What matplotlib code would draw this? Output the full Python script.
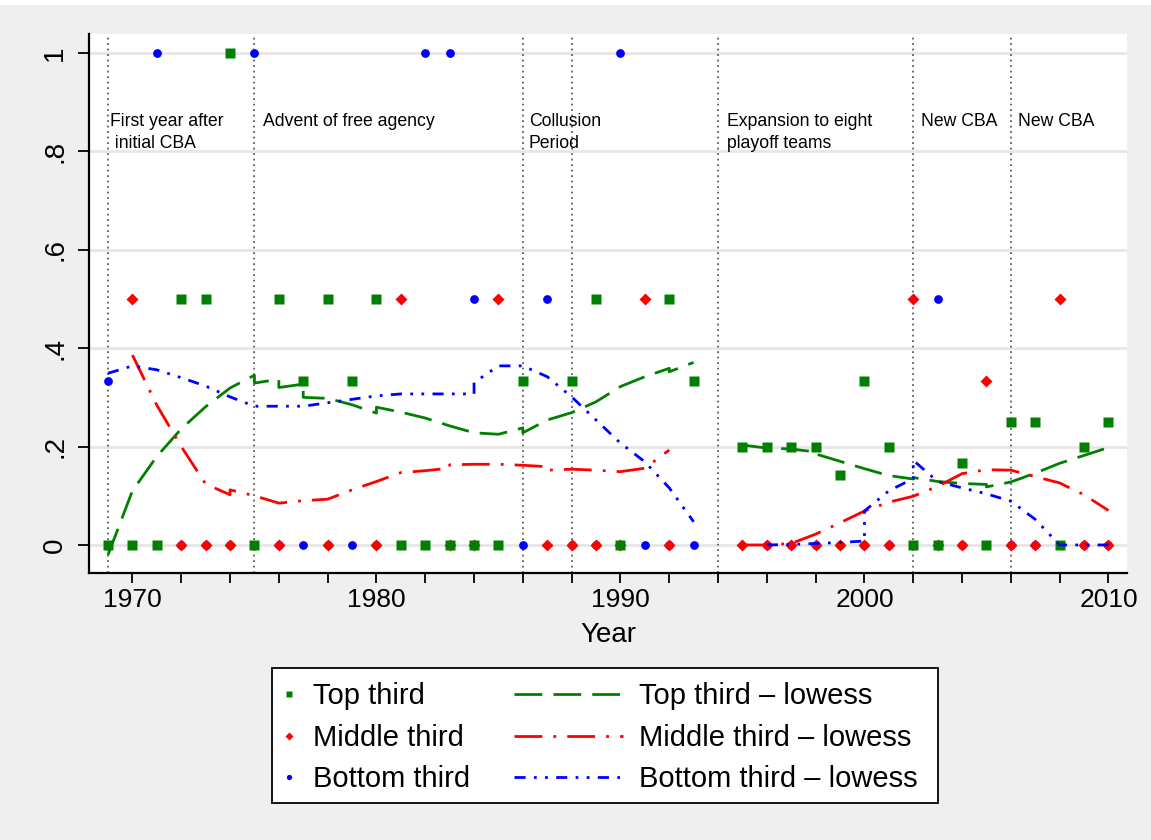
import matplotlib.pyplot as plt
import numpy as np
from matplotlib.patches import Rectangle
from matplotlib.lines import Line2D

nan = np.nan

# scatter data, one value per year and third
years = list(range(1969, 1994)) + list(range(1995, 2011))

top = [0, 0, 0, .5, .5, 1, 0, .5, .333, .5, .333, .5, 0, 0, 0, 0, 0, .333, nan, .333, .5, 0, nan, .5, .333,
       .2, .2, .2, .2, .143, .333, .2, 0, 0, .167, 0, .25, .25, 0, .2, .25]
middle = [nan, .5, nan, 0, 0, 0, nan, 0, nan, 0, nan, 0, .5, nan, 0, 0, .5, nan, 0, 0, 0, 0, .5, 0, nan,
          0, 0, 0, 0, 0, 0, 0, .5, 0, 0, .333, 0, 0, .5, 0, 0]
bottom = [.333, 0, 1, 0, 0, 0, 1, 0, 0, 0, 0, 0, 0, 1, 1, .5, 0, 0, .5, 0, 0, 1, 0, 0, 0,
          nan, 0, 0, 0, 0, 0, 0, 0, .5, 0, 0, 0, 0, 0, 0, 0]

# lowess curves (nan at 1994 = gap)
top_lw_x = [1969, 1970, 1971, 1972, 1973, 1974, 1975, 1975, 1976, 1976, 1977, 1977, 1978, 1979,
            1980, 1980, 1981, 1982, 1983, 1984, 1985, 1986, 1986, 1987, 1988, 1989, 1990, 1991,
            1992, 1992, 1993, 1994,
            1995, 1996, 1997, 1998, 1998, 1999, 2000, 2001, 2002, 2002, 2003, 2004, 2005, 2005,
            2006, 2007, 2008, 2009, 2010]
top_lw_y = [-.02, .11, .18, .236, .281, .319, .345, .329, .337, .32, .327, .30, .298, .285,
            .268, .28, .27, .258, .242, .228, .225, .238, .228, .254, .269, .291, .322, .342,
            .359, .352, .371, nan,
            .203, .197, .195, .189, .185, .17, .155, .141, .134, .137, .129, .125, .123, .118,
            .128, .146, .166, .182, .198]

mid_lw_x = [1970, 1971, 1972, 1973, 1974, 1974, 1975, 1976, 1977, 1978, 1979, 1980, 1981, 1982,
            1983, 1983, 1984, 1985, 1986, 1987, 1987, 1988, 1989, 1990, 1991, 1992, 1994,
            1995, 1996, 1997, 1998, 1999, 2000, 2001, 2002, 2003, 2004, 2005, 2006, 2007, 2008,
            2009, 2010]
mid_lw_y = [.386, .284, .2, .124, .102, .112, .1, .085, .09, .093, .112, .129, .147, .151,
            .156, .163, .164, .164, .162, .159, .152, .154, .152, .149, .156, .193, nan,
            0, 0, .003, .022, .045, .069, .087, .099, .119, .145, .153, .152, .139, .126,
            .102, .07]

bot_lw_x = [1969, 1970, 1971, 1972, 1973, 1974, 1975, 1976, 1977, 1978, 1979, 1980, 1981, 1982,
            1983, 1984, 1984, 1985, 1986, 1987, 1988, 1989, 1990, 1991, 1992, 1993, 1994,
            1996, 1997, 1998, 1999, 2000, 2000, 2001, 2002, 2002, 2003, 2004, 2005, 2006, 2007,
            2008, 2009, 2010]
bot_lw_y = [.349, .364, .356, .34, .323, .301, .282, .282, .282, .289, .296, .303, .307, .307,
            .307, .307, .33, .364, .364, .342, .301, .254, .207, .169, .116, .047, nan,
            0, .001, .003, .005, .008, .069, .11, .135, .172, .129, .116, .104, .089, .052,
            0, 0, 0]

event_years = [1969, 1975, 1986, 1988, 1994, 2002, 2006]
event_labels = [(1969.08, "First year after\n initial CBA"), (1975.35, "Advent of free agency"),
                (1986.25, "Collusion\nPeriod"), (1994.35, "Expansion to eight\nplayoff teams"),
                (2002.3, "New CBA"), (2006.3, "New CBA")]

plt.rcParams['font.family'] = ['Liberation Sans', 'DejaVu Sans']

green = '#008000'
red = '#ff0000'
blue = '#0000ff'

fig = plt.figure(figsize=(11.51, 8.4), dpi=100, facecolor='#efefef')
fig.patches.append(Rectangle((0, 835 / 840), 1, 5 / 840, transform=fig.transFigure,
                             facecolor='white', edgecolor='none', zorder=0))
ax = fig.add_axes([89 / 1151, 267 / 840, (1127 - 89) / 1151, (573 - 34) / 840])
ax.set_facecolor('white')

for yv in [0, .2, .4, .6, .8, 1]:
    ax.axhline(yv, color='#e6e6e6', lw=2, zorder=0)
for ev in event_years:
    ax.axvline(ev, color='#444444', lw=1.1, linestyle=(0, (1.2, 2.4)), zorder=1)

ax.plot(years, bottom, 'o', color=blue, ms=6.3, mec='none', zorder=3)
ax.plot(years, middle, 'D', color=red, ms=6.5, mec='none', zorder=3)
ax.plot(years, top, 's', color=green, ms=7, mec='none', zorder=3)

ax.plot(top_lw_x, top_lw_y, color=green, lw=2, linestyle=(0, (10, 4)), zorder=4)
ax.plot(mid_lw_x, mid_lw_y, color=red, lw=2, linestyle=(0, (10, 4, 1, 4)), zorder=4)
ax.plot(bot_lw_x, bot_lw_y, color=blue, lw=2, linestyle=(0, (4, 3, 1, 3, 1, 3)), zorder=4)

for xv, txt in event_labels:
    ax.text(xv, 0.878, txt, fontsize=12.7, va='top', ha='left', linespacing=1.42, zorder=5)

ax.set_xlim(1968.22, 2010.76)
ax.set_ylim(-0.057, 1.0386)
ax.set_xticks(range(1970, 2011, 2))
ax.set_xticklabels([str(y) if y % 10 == 0 else '' for y in range(1970, 2011, 2)], fontsize=19)
ax.set_yticks([0, .2, .4, .6, .8, 1])
ax.set_yticklabels(['0', '.2', '.4', '.6', '.8', '1'], fontsize=20, rotation=90, va='center')
ax.tick_params(axis='x', length=7, width=1.3, pad=4)
ax.tick_params(axis='y', length=8, width=1.3, pad=7)
ax.set_xlabel('Year', fontsize=20, labelpad=7)

for s in ['top', 'right']:
    ax.spines[s].set_visible(False)
for s in ['left', 'bottom']:
    ax.spines[s].set_linewidth(1.6)

# legend: white box with two columns
fig.patches.append(Rectangle((272 / 1151, (840 - 803) / 840), (938 - 272) / 1151, (803 - 668) / 840,
                             transform=fig.transFigure, facecolor='white', edgecolor='black',
                             lw=1.3, zorder=1))
mk_handles = [Line2D([], [], ls='none', marker='s', color=green, ms=4, mec='none'),
              Line2D([], [], ls='none', marker='D', color=red, ms=3.8, mec='none'),
              Line2D([], [], ls='none', marker='o', color=blue, ms=3.8, mec='none')]
ln_handles = [Line2D([], [], color=green, lw=2, linestyle=(0, (10, 4))),
              Line2D([], [], color=red, lw=2, linestyle=(0, (10, 4, 1, 4))),
              Line2D([], [], color=blue, lw=2, linestyle=(0, (4, 3, 1, 3, 1, 3)))]
leg1 = fig.legend(mk_handles, ['Top third', 'Middle third', 'Bottom third'],
                  loc='upper left', bbox_to_anchor=(282 / 1151, (840 - 682) / 840),
                  frameon=False, fontsize=21, handlelength=0.5, handletextpad=0.55,
                  labelspacing=0.47, borderpad=0, borderaxespad=0)
leg2 = fig.legend(ln_handles, ['Top third \u2013 lowess', 'Middle third \u2013 lowess',
                               'Bottom third \u2013 lowess'],
                  loc='upper left', bbox_to_anchor=(514 / 1151, (840 - 682) / 840),
                  frameon=False, fontsize=21, handlelength=3.75, handletextpad=0.55,
                  labelspacing=0.47, borderpad=0, borderaxespad=0)
leg1.set_zorder(3)
leg2.set_zorder(3)

fig.savefig('out.png', dpi=100, facecolor=fig.get_facecolor())
